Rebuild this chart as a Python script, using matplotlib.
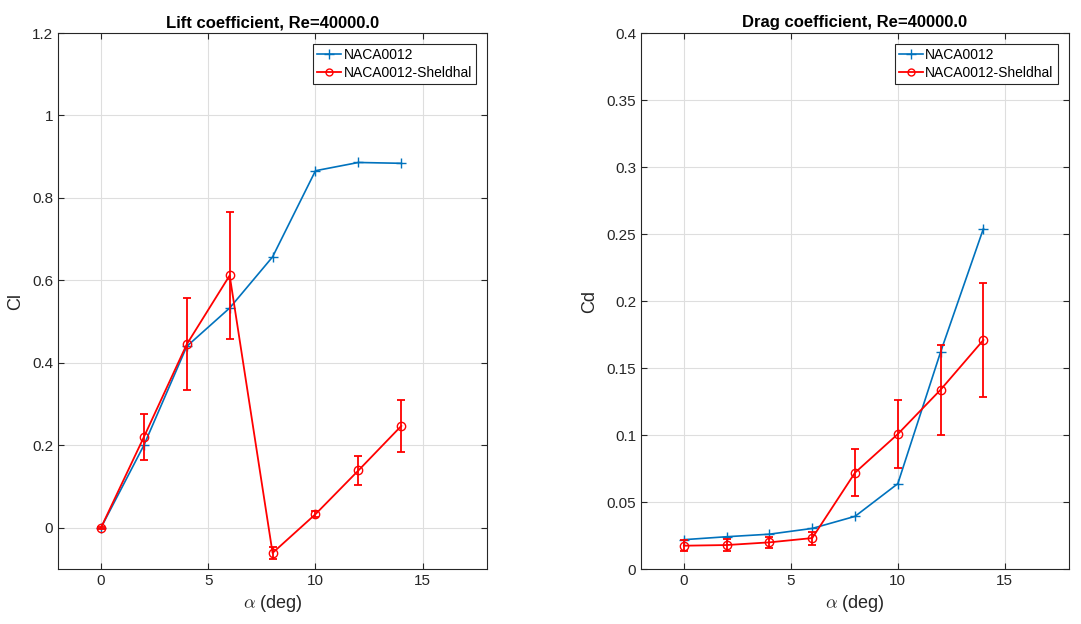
import matplotlib
matplotlib.use("Agg")
import matplotlib.pyplot as plt
from matplotlib.lines import Line2D

plt.rcParams['font.family'] = ['Liberation Sans', 'DejaVu Sans']
plt.rcParams['mathtext.fontset'] = 'cm'

alpha = [0, 2, 4, 6, 8, 10, 12, 14]

cl_naca = [0.0, 0.20, 0.44, 0.533, 0.657, 0.866, 0.886, 0.884]
cl_shel = [0.0, 0.22, 0.445, 0.612, -0.061, 0.033, 0.139, 0.247]
cl_shel_err = [0.003, 0.055, 0.112, 0.154, 0.014, 0.007, 0.035, 0.063]

cd_naca = [0.0219, 0.0241, 0.026, 0.0303, 0.0393, 0.0637, 0.162, 0.254]
cd_shel = [0.0174, 0.0179, 0.0199, 0.0231, 0.0719, 0.1007, 0.1338, 0.1709]
cd_shel_err = [0.0043, 0.0043, 0.0043, 0.0048, 0.0177, 0.0255, 0.0335, 0.0427]

label_naca = 'NACA0012'
label_shel = 'NACA0012-Sheldhal'
blue = '#0072BD'
red = '#FF0000'
axc = '#262626'

fig = plt.figure(figsize=(10.81, 6.24), dpi=100)
ax1 = fig.add_axes([0.0537, 0.0881, 0.3969, 0.859])
ax2 = fig.add_axes([0.593, 0.0881, 0.3959, 0.859])


def style(ax):
    ax.grid(True, color='#dedede', linewidth=0.8)
    ax.set_axisbelow(True)
    for s in ax.spines.values():
        s.set_color(axc)
        s.set_linewidth(0.8)
    ax.tick_params(direction='in', top=True, right=True, colors=axc,
                   labelsize=11, length=4, width=0.8)
    ax.set_xlim(-2, 18)
    ax.set_xticks([0, 5, 10, 15])
    ax.set_xlabel(r'$\alpha$ (deg)', fontsize=13, color=axc)


for ax, yn, ys, ye, ylab, title, ylim, yt in [
    (ax1, cl_naca, cl_shel, cl_shel_err, 'Cl', 'Lift coefficient, Re=40000.0',
     (-0.1, 1.2), [0, 0.2, 0.4, 0.6, 0.8, 1.0, 1.2]),
    (ax2, cd_naca, cd_shel, cd_shel_err, 'Cd', 'Drag coefficient, Re=40000.0',
     (0, 0.4), [0, 0.05, 0.1, 0.15, 0.2, 0.25, 0.3, 0.35, 0.4])]:
    style(ax)
    ax.plot(alpha, yn, color=blue, marker='+', markersize=7, linewidth=1.2,
            zorder=3)
    ax.errorbar(alpha, ys, yerr=ye, color=red, marker='o', markersize=6,
                markerfacecolor='none', linewidth=1.3, capsize=2.8,
                elinewidth=1.3, capthick=1.3, zorder=4)
    ax.set_ylim(*ylim)
    ax.set_yticks(yt)
    ax.set_yticklabels([('%g' % v) for v in yt])
    ax.set_ylabel(ylab, fontsize=13, color=axc, labelpad=6)
    ax.set_title(title, fontsize=12, fontweight='bold', pad=4)
    handles = [Line2D([], [], color=blue, marker='+', markersize=7, linewidth=1.2),
               Line2D([], [], color=red, marker='o', markersize=5,
                      markerfacecolor='none', linewidth=1.3)]
    leg = ax.legend(handles, [label_naca, label_shel], loc='upper right',
                    fontsize=10, frameon=True, fancybox=False,
                    edgecolor=axc, framealpha=1, handlelength=1.7,
                    borderpad=0.3, labelspacing=0.25, handletextpad=0.2,
                    borderaxespad=0.8)
    leg.get_frame().set_linewidth(0.8)

fig.savefig('out.png', dpi=100)
